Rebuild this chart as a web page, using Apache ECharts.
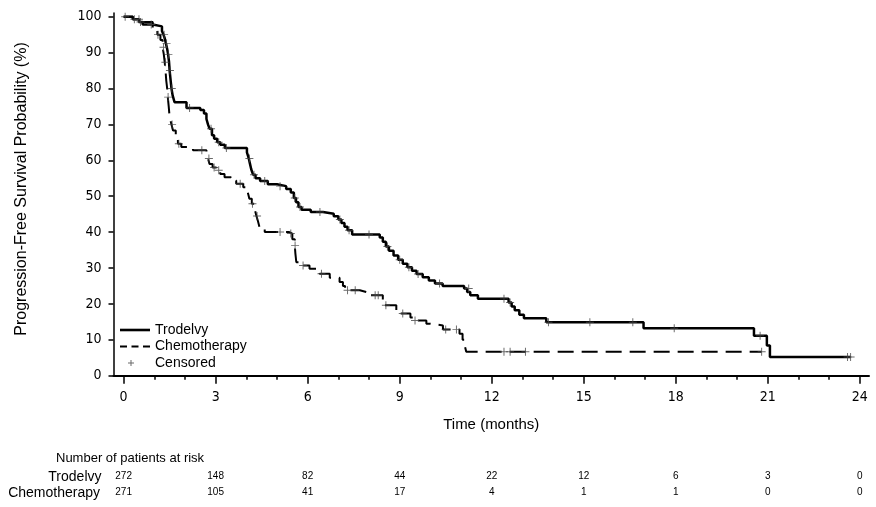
<!DOCTYPE html>
<html>
<head>
<meta charset="utf-8">
<script src="https://cdn.jsdelivr.net/npm/echarts@6/dist/echarts.min.js"></script>
<style>html,body{margin:0;padding:0;background:#fff;}#c{width:876px;height:507px;}</style>
</head>
<body>
<div id="c"></div>
<script>
// ---- data ----
const monthTicks = [0, 3, 6, 9, 12, 15, 18, 21, 24];
const minorMonthTicks = [0,1,2,3,4,5,6,7,8,9,10,11,12,13,14,15,16,17,18,19,20,21,22,23,24];
const yTicks = [0, 10, 20, 30, 40, 50, 60, 70, 80, 90, 100];
const riskTrodelvy = [272, 148, 82, 44, 22, 12, 6, 3, 0];
const riskChemo = [271, 105, 41, 17, 4, 1, 1, 0, 0];

const trodelvyCurve = [
  [0,100],[0.3,99.3],[0.5,98.5],[0.62,97.8],[0.95,97.3],[1.25,96],[1.3,95],[1.34,94],[1.38,92.5],
  [1.42,91],[1.45,89.5],[1.48,87.5],[1.5,85],[1.53,82.5],[1.56,80],[1.6,78],[1.66,76.2],[2.05,74.6],
  [2.5,74.0],[2.62,73],[2.7,71.5],[2.75,70],[2.8,68.8],[2.88,67],[2.95,66],[3.05,65],[3.15,64.3],
  [3.3,63.4],[4.02,62.2],[4.08,60.5],[4.12,59],[4.16,57.5],[4.22,56],[4.3,55],[4.45,54.2],[4.7,53.3],
  [5.0,52.8],[5.3,52],[5.45,51],[5.55,49.5],[5.62,48.3],[5.7,47],[5.8,46.2],[6.1,45.6],[6.5,45.1],
  [6.85,44.4],[7.0,43.5],[7.1,42.5],[7.2,41.5],[7.3,40.5],[7.45,39.3],[8.35,38.5],[8.45,37.3],
  [8.55,36],[8.65,34.8],[8.8,33.5],[8.95,32.3],[9.1,31.2],[9.25,30.2],[9.4,29.2],[9.55,28.3],
  [9.75,27.4],[9.95,26.5],[10.15,25.7],[10.4,25.0],[11.1,24.3],[11.2,23.3],[11.3,22.4],[11.55,21.4],
  [12.55,20.4],[12.65,19.3],[12.75,18.2],[12.9,17.0],[13.05,16.0],[13.78,14.9],[16.95,13.2],
  [20.55,11.1],[20.97,8.4],[21.07,5.2],[23.7,5.2]
];
const chemoCurve = [
  [0,100],[0.3,99.3],[0.6,98.5],[0.95,96.5],[1.1,95],[1.2,93.5],[1.27,91.5],[1.31,89.5],[1.34,87.3],
  [1.37,84.5],[1.39,82.2],[1.42,80],[1.44,77.6],[1.47,75],[1.5,72],[1.56,70],[1.61,68.3],[1.7,66.3],
  [1.77,64.6],[1.88,63.7],[2.26,62.8],[2.7,61.8],[2.75,60.5],[2.8,59],[2.9,58],[3.02,57.2],[3.15,56.2],
  [3.29,55.3],[3.5,54.4],[3.67,53.5],[3.9,52.5],[4.05,51],[4.1,49.3],[4.18,47.9],[4.27,46.5],[4.33,44.5],
  [4.38,43],[4.43,41.4],[4.6,40.0],[5.4,39.6],[5.5,38],[5.58,36.3],[5.6,34],[5.63,31.6],[5.79,30.7],
  [6.06,29.8],[6.39,28.4],[6.72,27.3],[7.04,26.1],[7.15,25],[7.22,23.8],[7.7,23.3],[7.91,22.4],
  [8.45,19.6],[8.89,17.3],[9.35,16.2],[9.43,15.4],[9.87,14.5],[9.98,14.0],[10.41,12.9],[10.95,11.7],
  [11.05,10],[11.12,8.4],[11.17,6.7],[20.8,6.7]
];
const trodelvyCensored = [
  [0.05,100],[0.35,99.3],[0.55,98.5],[0.9,97.8],[1.32,95],[1.4,92.5],[1.46,89.5],[1.51,85],[1.57,80],
  [2.15,74.6],[2.85,68.8],[3.1,65],[3.35,63.4],[4.1,60.5],[4.25,56],[4.6,54.2],[5.1,52.8],[5.58,49.5],
  [5.75,47],[6.4,45.6],[7.05,43.5],[7.35,40.5],[8.0,39.3],[8.6,36],[9.0,32.3],[9.3,30.2],[9.6,28.3],
  [10.3,25.7],[11.25,24.3],[12.4,21.4],[12.6,20.4],[13.85,14.9],[15.2,14.9],[16.6,14.9],[17.95,13.2],
  [20.75,11.1],[23.6,5.2],[23.7,5.2]
];
const chemoCensored = [
  [0.5,99.3],[1.12,95],[1.3,91.5],[1.36,87.3],[1.45,77.6],[1.58,70],[1.8,64.6],[2.55,62.8],[2.78,60.5],
  [2.95,58],[3.1,57.2],[3.8,53.5],[4.2,47.9],[4.35,44.5],[5.1,40.0],[5.45,39.6],[5.59,36.3],[5.85,30.7],
  [6.45,28.4],[7.3,23.8],[7.55,23.8],[8.2,22.4],[8.3,22.4],[8.55,19.6],[9.1,17.3],[9.5,15.4],[10.5,12.9],
  [10.85,12.9],[12.4,6.7],[12.6,6.7],[13.1,6.7],[20.8,6.7]
];

// ---- chart ----
const narrow = "'Liberation Sans Narrow', 'Arial Narrow', 'DejaVu Sans Condensed', Arial, sans-serif";
const plus = 'path://M4.4,0H5.6V10H4.4ZM0,4.4H10V5.6H0Z';
const legendSolid = 'path://M0,0H30V2.6H0Z';
const legendDashed = 'path://M0,0H7V2.2H0ZM11.5,0H18.5V2.2H11.5ZM23,0H30V2.2H23Z';
const legendPlus = 'path://M0,0M30,10M10.5,2H11.5V8H10.5ZM8,4.5H14V5.5H8Z';
const xMin = -0.33, xMax = 24.3;
const chart = echarts.init(document.getElementById('c'), null, {renderer: 'canvas'});
chart.setOption({
  animation: false,
  backgroundColor: '#fff',
  grid: {left: 113.5, right: 7, top: 13.1, bottom: 131.3, containLabel: false},
  legend: {
    orient: 'vertical', left: 120, top: 322, padding: 0, itemWidth: 30, itemHeight: 10, itemGap: 0.5,
    selectedMode: false,
    textStyle: {fontFamily: 'Arial', fontSize: 14, color: '#000', lineHeight: 16},
    data: [
      {name: 'Trodelvy', icon: legendSolid},
      {name: 'Chemotherapy', icon: legendDashed},
      {name: 'Censored', icon: legendPlus}
    ]
  },
  xAxis: [
    {
      type: 'value', min: xMin, max: xMax,
      name: 'Time (months)', nameLocation: 'middle', nameGap: 42,
      nameTextStyle: {fontFamily: 'Arial', fontSize: 15, color: '#000'},
      axisLine: {show: true, onZero: false, lineStyle: {color: '#000', width: 2}},
      axisTick: {show: true, customValues: monthTicks, length: 8, lineStyle: {color: '#000', width: 1.5}},
      axisLabel: {customValues: monthTicks, margin: 15, fontFamily: narrow, fontSize: 14, color: '#000'},
      splitLine: {show: false}
    },
    {
      type: 'value', min: xMin, max: xMax, position: 'bottom',
      axisLine: {show: false},
      axisTick: {show: true, customValues: minorMonthTicks, length: 4, lineStyle: {color: '#000', width: 1.5}},
      axisLabel: {show: false}, splitLine: {show: false}
    },
    {
      type: 'value', min: xMin, max: xMax, position: 'bottom', offset: 96,
      axisLine: {show: false}, axisTick: {show: false}, splitLine: {show: false},
      axisLabel: {customValues: monthTicks, margin: 0, fontFamily: 'Arial', fontSize: 10, color: '#000',
        formatter: v => String(riskTrodelvy[monthTicks.indexOf(v)])}
    },
    {
      type: 'value', min: xMin, max: xMax, position: 'bottom', offset: 112,
      axisLine: {show: false}, axisTick: {show: false}, splitLine: {show: false},
      axisLabel: {customValues: monthTicks, margin: 0, fontFamily: 'Arial', fontSize: 10, color: '#000',
        formatter: v => String(riskChemo[monthTicks.indexOf(v)])}
    }
  ],
  yAxis: {
    type: 'value', min: 0, max: 101,
    axisLine: {show: true, onZero: false, lineStyle: {color: '#000', width: 1.5}},
    axisTick: {show: true, customValues: yTicks, length: 5, lineStyle: {color: '#000', width: 1.5}},
    axisLabel: {customValues: yTicks, margin: 12, fontFamily: narrow, fontSize: 14, color: '#000'},
    splitLine: {show: false}
  },
  graphic: [
    {type: 'text', x: 22, y: 189, rotation: Math.PI / 2,
      style: {text: 'Progression-Free Survival Probability (%)', font: '16px Arial', fill: '#000', align: 'center', verticalAlign: 'middle'}},
    {type: 'text', x: 56, y: 458, style: {text: 'Number of patients at risk', font: '13px Arial', fill: '#000', align: 'left', verticalAlign: 'middle'}},
    {type: 'text', x: 101.5, y: 477, style: {text: 'Trodelvy', font: '14px Arial', fill: '#000', align: 'right', verticalAlign: 'middle'}},
    {type: 'text', x: 100, y: 493, style: {text: 'Chemotherapy', font: '14px Arial', fill: '#000', align: 'right', verticalAlign: 'middle'}}
  ],
  series: [
    {
      name: 'Trodelvy', type: 'line', step: 'end', symbol: 'none', data: trodelvyCurve,
      lineStyle: {color: '#000', width: 2.5}, itemStyle: {color: '#000'}, z: 3
    },
    {
      name: 'Chemotherapy', type: 'line', step: 'end', symbol: 'none', data: chemoCurve,
      lineStyle: {color: '#000', width: 2, type: [16, 8]}, itemStyle: {color: '#000'}, z: 3
    },
    {
      name: 'Censored', type: 'scatter', symbol: plus, symbolSize: 8, data: trodelvyCensored,
      itemStyle: {color: '#444'}, z: 4
    },
    {
      name: 'Censored', type: 'scatter', symbol: plus, symbolSize: 8, data: chemoCensored,
      itemStyle: {color: '#444'}, z: 4
    }
  ]
});
</script>
</body>
</html>
